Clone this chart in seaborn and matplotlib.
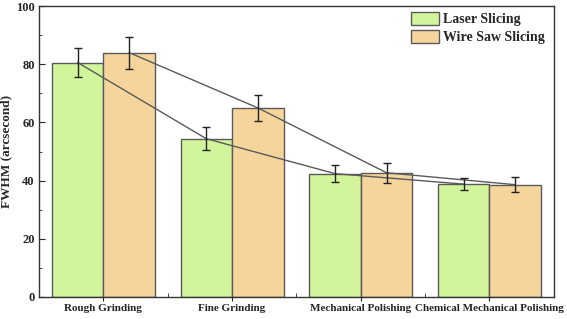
import matplotlib
matplotlib.use("Agg")
import matplotlib.pyplot as plt
import seaborn as sns
import pandas as pd
import numpy as np
from matplotlib.ticker import MultipleLocator, FixedLocator

categories = ["Rough Grinding", "Fine Grinding", "Mechanical Polishing", "Chemical Mechanical Polishing"]
series = ["Laser Slicing", "Wire Saw Slicing"]
laser_vals = [80.6, 54.4, 42.4, 38.8]
laser_err = [5.1, 4.0, 3.0, 2.0]
wire_vals = [84.0, 65.0, 42.7, 38.6]
wire_err = [5.5, 4.5, 3.5, 2.5]
colors = ["#D2F59C", "#F5D59C"]

df = pd.DataFrame({
    "Process": categories * 2,
    "Series": [series[0]] * 4 + [series[1]] * 4,
    "FWHM": laser_vals + wire_vals,
})

sns.set_style("white")
plt.rcParams["font.family"] = ["Liberation Serif", "DejaVu Serif"]
plt.rcParams["font.weight"] = "bold"

fig = plt.figure(figsize=(5.67, 3.19), dpi=100)
ax = fig.add_axes([0.0688, 0.069, 0.908, 0.912])

sns.barplot(data=df, x="Process", y="FWHM", hue="Series", order=categories,
            hue_order=series, palette=colors, saturation=1, width=0.8, errorbar=None,
            edgecolor="#5a5a5a", linewidth=1.0, ax=ax, legend=True)

offsets = [-0.2, 0.2]
x = np.arange(len(categories))
for off, vals, errs in zip(offsets, [laser_vals, wire_vals], [laser_err, wire_err]):
    ax.plot(x + off, vals, color="#5a5a5a", lw=1.0, zorder=3)
    ax.errorbar(x + off, vals, yerr=errs, fmt="none", ecolor="#222222",
                elinewidth=1.0, capsize=3, capthick=1.0, zorder=4)

ax.set_xlim(-0.5, 3.5)
ax.set_ylim(0, 100)
ax.set_xlabel("")
ax.set_ylabel("FWHM (arcsecond)", fontsize=9.5, fontweight="bold", labelpad=3)
ax.yaxis.set_major_locator(MultipleLocator(20))
ax.yaxis.set_minor_locator(MultipleLocator(10))
ax.xaxis.set_minor_locator(FixedLocator([0.5, 1.5, 2.5]))
ax.tick_params(axis="y", which="both", direction="in", left=True, length=4, labelsize=9, pad=3)
ax.tick_params(axis="y", which="minor", length=2.5)
ax.tick_params(axis="x", which="major", direction="out", bottom=True, length=3, labelsize=8, pad=2)
ax.tick_params(axis="x", which="minor", direction="in", bottom=True, length=3)
for lab in ax.get_xticklabels() + ax.get_yticklabels():
    lab.set_fontweight("bold")
for sp in ax.spines.values():
    sp.set_visible(True)
    sp.set_color("#333333")
    sp.set_linewidth(1.0)

leg = ax.legend(loc="upper right", bbox_to_anchor=(0.995, 1.0), frameon=False,
                prop={"weight": "bold", "size": 10}, handlelength=2.0,
                handleheight=1.0, labelspacing=0.3, borderaxespad=0.05,
                handletextpad=0.3)

fig.savefig("out.png", dpi=100)
